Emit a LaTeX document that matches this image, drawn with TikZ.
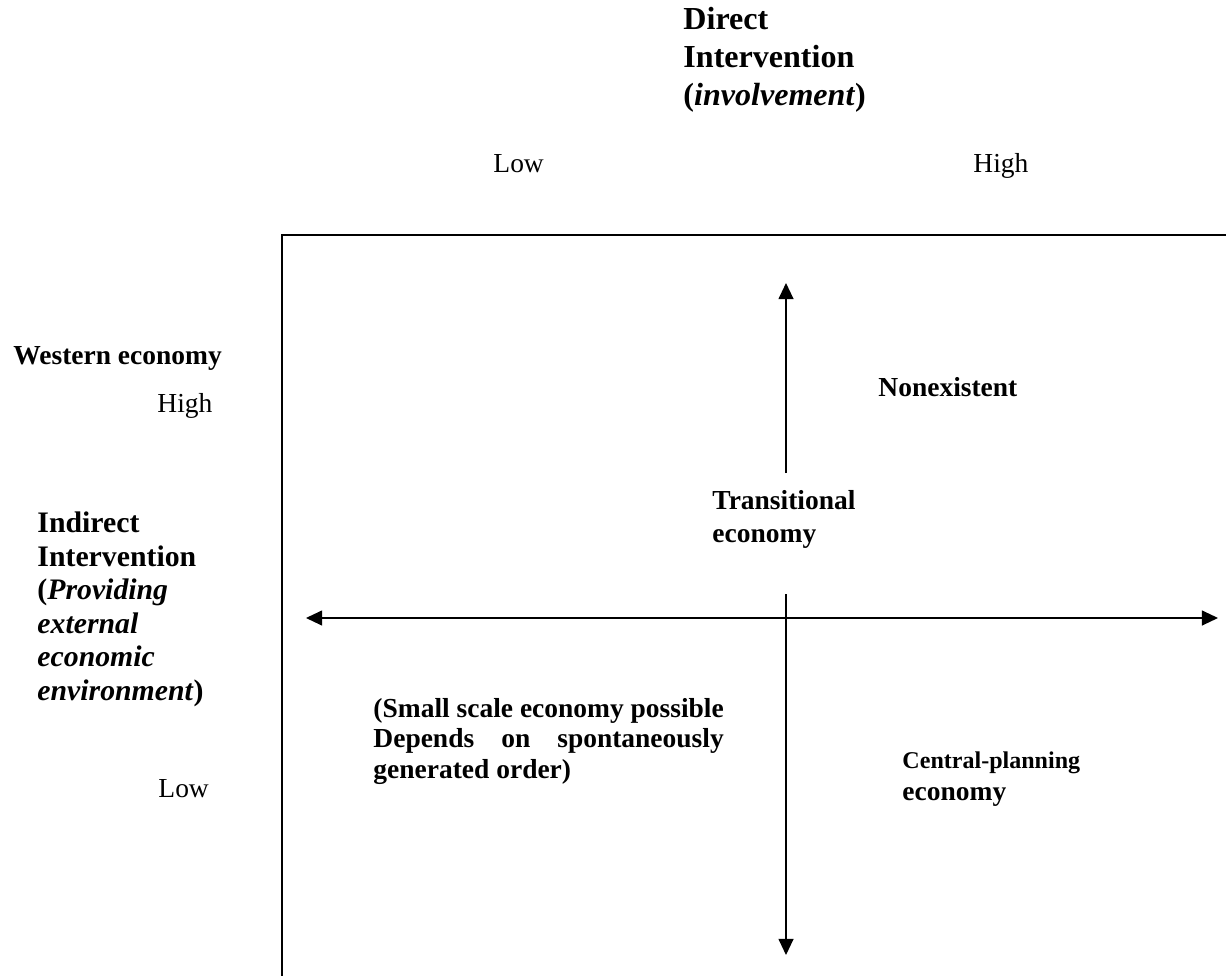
\documentclass[tikz,border=0pt]{standalone}
\usepackage{fontspec}
\setmainfont{Liberation Serif}
\usetikzlibrary{arrows.meta}

\newlength\smallwd
\settowidth{\smallwd}{\fontsize{12}{13.8}\selectfont\bfseries (Small scale economy possible}

\begin{document}
\begin{tikzpicture}[x=0.4367pt, y=-0.4367pt,
    txt/.style={inner sep=0pt, anchor=base west, align=left, font=\fontsize{12}{13.8}\selectfont},
    axis/.style={line width=0.6pt, -{Triangle[length=7pt, width=6.5pt]}}]
    \useasboundingbox (0,0) rectangle (1226,976);
    \clip (0,0) rectangle (1226,976);

    % Direct intervention (top), anchored at last baseline
    \node[txt, font=\fontsize{14}{16.6}\selectfont\bfseries] (direct) at (683,106)
        {Direct\\Intervention\\(\textit{involvement})};
    \node[txt] (dlow) at (493,173) {Low};
    \node[txt] (dhigh) at (973,173) {High};

    % Indirect intervention (left)
    \node[txt, font=\fontsize{12}{13.8}\selectfont\bfseries] (western) at (13,365) {Western economy};
    \node[txt] (ihigh) at (157,413) {High};
    \node[txt, font=\fontsize{13}{14.6}\selectfont\bfseries] (indirect) at (37,700)
        {Indirect\\Intervention\\(\textit{Providing}\\\textit{external}\\\textit{economic}\\\textit{environment})};
    \node[txt] (ilow) at (158,797) {Low};

    % Frame
    \draw[line width=0.9pt] (282,1100) -- (282,235) -- (1300,235);

    % Axes
    \coordinate (up) at (786,283);
    \coordinate (upstart) at (786,473);
    \coordinate (down) at (786,955);
    \coordinate (downstart) at (786,594);
    \coordinate (left) at (306,618);
    \coordinate (right) at (1218,618);
    \draw[axis] (upstart) -- (up);
    \draw[axis] (downstart) -- (down);
    \draw[axis, {Triangle[length=7pt, width=6.5pt]}-{Triangle[length=7pt, width=6.5pt]}] (left) -- (right);

    % Quadrants
    \node[txt, font=\fontsize{12}{13.8}\selectfont\bfseries] (nonex) at (878,397) {Nonexistent};
    \node[txt, font=\fontsize{12}{14}\selectfont\bfseries] (trans) at (712,542) {Transitional\\economy};
    \node[txt, font=\fontsize{12}{13.2}\selectfont\bfseries] (small) at (373,778)
        {(Small scale economy possible\\\makebox[\smallwd][s]{Depends on spontaneously}\\generated order)};
    \node[txt, font=\fontsize{10.5}{13.8}\selectfont\bfseries] (central) at (902,768) {Central-planning};
    \node[txt, font=\fontsize{12}{13.8}\selectfont\bfseries] (ceco) at (902,800) {economy};
\end{tikzpicture}
\end{document}
